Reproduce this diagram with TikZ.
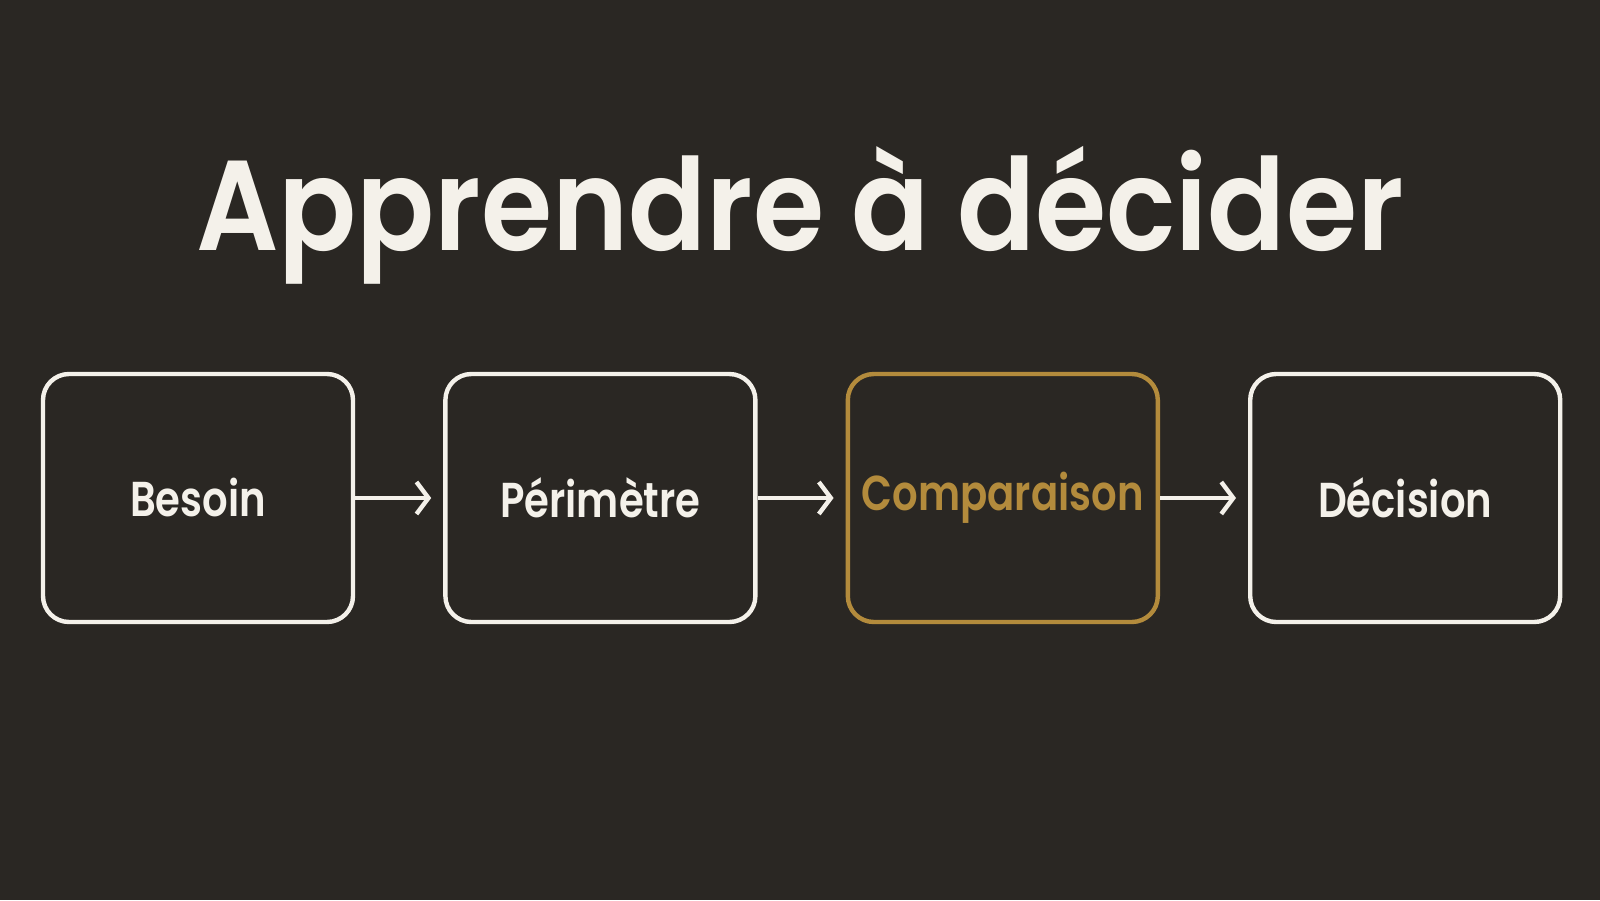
\documentclass[tikz,border=0pt]{standalone}
\usepackage{fontspec}
\setmainfont{Poppins}
\newfontfamily\titlefont{Poppins SemiBold}[FakeStretch=0.9]
\newfontfamily\labelfont{Poppins SemiBold}[FakeStretch=0.82]
\usepackage{tikz}
\usetikzlibrary{arrows.meta}
\usetikzlibrary{positioning}
\definecolor{bgcol}{HTML}{2A2723}
\definecolor{chalk}{HTML}{F4F1EA}
\definecolor{gold}{HTML}{B38B3C}
\begin{document}
\begin{tikzpicture}[x=0.5pt,y=-0.5pt,
        stepbox/.style={draw=chalk, line width=2.2pt, rounded corners=13pt,
            minimum width=155pt, minimum height=124pt, inner sep=0pt, text=chalk,
            font=\labelfont\fontsize{24.5}{30}\selectfont},
        focus/.style={draw=gold, text=gold},
        flow/.style={-{Straight Barb[length=6pt,width=16pt,line width=2.2pt]},
            draw=chalk, line width=2.2pt, shorten >=6pt}]
        \fill[bgcol] (0,0) rectangle (1600,900);
        \useasboundingbox (0,0) rectangle (1600,900);
        \node[text=chalk, font=\titlefont\fontsize{64}{70}\selectfont, anchor=base]
            (title) at (800,250) {Apprendre à décider};
        \node[stepbox] (besoin) at (198,498) {Besoin};
        \node[stepbox, right=44pt of besoin] (perimetre) {Périmètre};
        \node[stepbox, focus, right=44pt of perimetre] (comparaison) {Comparaison};
        \node[stepbox, right=44pt of comparaison] (decision) {Décision};
        \draw[flow] (besoin) -- (perimetre);
        \draw[flow] (perimetre) -- (comparaison);
        \draw[flow] (comparaison) -- (decision);
    \end{tikzpicture}
\end{document}
